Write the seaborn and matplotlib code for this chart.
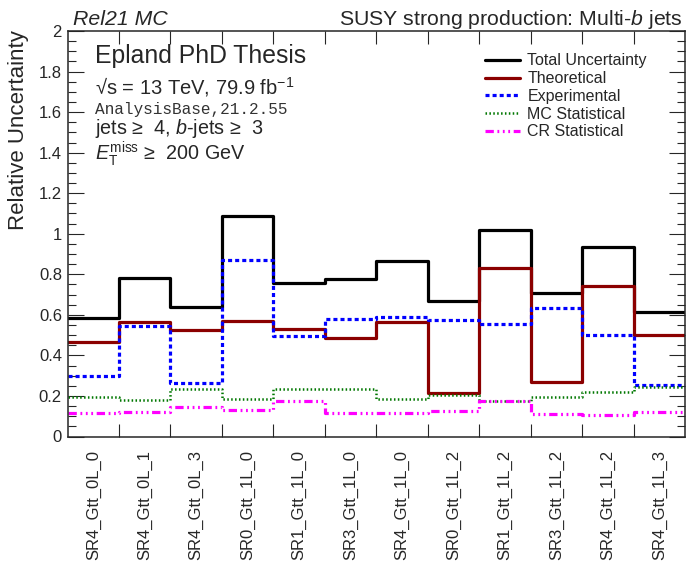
import numpy as np
import pandas as pd
import matplotlib
matplotlib.use("Agg")
import matplotlib.pyplot as plt
from matplotlib.ticker import MultipleLocator, FuncFormatter
import seaborn as sns

# Signal regions (one bin each)
regions = ["SR4_Gtt_0L_0", "SR4_Gtt_0L_1", "SR4_Gtt_0L_3", "SR0_Gtt_1L_0",
           "SR1_Gtt_1L_0", "SR3_Gtt_1L_0", "SR4_Gtt_1L_0", "SR0_Gtt_1L_2",
           "SR1_Gtt_1L_2", "SR3_Gtt_1L_2", "SR4_Gtt_1L_2", "SR4_Gtt_1L_3"]

# Relative uncertainties per region
total = [0.582, 0.780, 0.641, 1.090, 0.755, 0.777, 0.867, 0.669, 1.020, 0.707, 0.934, 0.613]
theoretical = [0.465, 0.564, 0.526, 0.570, 0.531, 0.486, 0.565, 0.213, 0.832, 0.269, 0.743, 0.500]
experimental = [0.299, 0.546, 0.264, 0.870, 0.496, 0.579, 0.589, 0.575, 0.554, 0.633, 0.500, 0.256]
mc_stat = [0.195, 0.180, 0.235, 0.185, 0.236, 0.236, 0.187, 0.205, 0.175, 0.197, 0.221, 0.246]
cr_stat = [0.118, 0.122, 0.146, 0.131, 0.174, 0.115, 0.118, 0.124, 0.177, 0.113, 0.108, 0.122]

series_names = ["Total Uncertainty", "Theoretical", "Experimental", "MC Statistical", "CR Statistical"]
series_values = [total, theoretical, experimental, mc_stat, cr_stat]

sns.set_style("ticks")
plt.rcParams["font.family"] = ["Liberation Sans", "DejaVu Sans"]
plt.rcParams["mathtext.fontset"] = "custom"
plt.rcParams["mathtext.rm"] = "Liberation Sans"
plt.rcParams["mathtext.it"] = "Liberation Sans:italic"
plt.rcParams["mathtext.bf"] = "Liberation Sans:bold"
plt.rcParams["lines.scale_dashes"] = False

W, H = 687, 568
fig = plt.figure(figsize=(W / 100, H / 100), dpi=100)
x0, x1, y0, y1 = 67.5, 685.0, 31.0, 436.5
ax = fig.add_axes([x0 / W, 1 - y1 / H, (x1 - x0) / W, (y1 - y0) / H])

styles = {
    "Total Uncertainty": dict(color="black", linewidth=2.3, linestyle="-"),
    "Theoretical": dict(color="#8b0000", linewidth=2.3, linestyle="-"),
    "Experimental": dict(color="#0000ff", linewidth=2.3, linestyle=(0, (2.9, 2.2))),
    "MC Statistical": dict(color="#007700", linewidth=1.8, linestyle=(0, (1.1, 1.7))),
    "CR Statistical": dict(color="#ff00ff", linewidth=2.3,
                           linestyle=(0, (6.0, 2.6, 1.3, 2.6, 1.3, 2.6, 1.3, 2.6))),
}

edges = np.arange(len(regions) + 1)
for name, vals in zip(series_names, series_values):
    df = pd.DataFrame({"edge": edges, "value": list(vals) + [vals[-1]]})
    sns.lineplot(data=df, x="edge", y="value", ax=ax, drawstyle="steps-post",
                 estimator=None, label=name, **styles[name])

ax.set_xlim(0, len(regions))
ax.set_ylim(0, 2)
ax.set_xlabel("")
ax.set_ylabel("")

# bin edges as tick marks, region names centred in each bin
ax.set_xticks(edges[1:-1])
ax.set_xticklabels([])
ax.set_xticks(edges[:-1] + 0.5, minor=True)
ax.set_xticklabels(regions, minor=True, rotation=90, fontsize=12)
ax.tick_params(axis="x", which="major", direction="in", top=True, bottom=True,
               length=9.5, width=0.8)
ax.tick_params(axis="x", which="minor", length=0, pad=9.5)

ax.yaxis.set_major_locator(MultipleLocator(0.2))
ax.yaxis.set_minor_locator(MultipleLocator(0.05))
ax.yaxis.set_major_formatter(FuncFormatter(lambda v, _: f"{v:g}"))
ax.tick_params(axis="y", which="major", direction="in", left=True, right=True,
               length=11.5, width=0.8, labelsize=12, pad=4)
ax.tick_params(axis="y", which="minor", direction="in", left=True, right=True,
               length=5.8, width=0.8)
for sp in ax.spines.values():
    sp.set_linewidth(1.1)

ax.legend(loc="upper left", bbox_to_anchor=(485 / W, 1 - 53.5 / H),
          bbox_transform=fig.transFigure, frameon=False, fontsize=11.5,
          handlelength=2.2, handletextpad=0.45, labelspacing=0.17,
          borderpad=0, borderaxespad=0)

def px(x, y):
    return x / W, 1 - y / H

fig.text(*px(19, 30), "Relative Uncertainty", rotation=90, ha="center", va="top",
         fontsize=16)
fig.text(*px(73, 25), "Rel21 MC", style="italic", fontsize=15.3, va="baseline")
fig.text(*px(683, 25), "SUSY strong production: Multi-$b$ jets", ha="right",
         fontsize=15.3, va="baseline")

fig.text(*px(95, 63.3), "Epland PhD Thesis", fontsize=17.8, va="baseline")
fig.text(*px(95, 94), "\u221as = 13 TeV, 79.9 fb$^{-1}$", fontsize=14.5, va="baseline")
fig.text(*px(95, 114), "AnalysisBase,21.2.55", family="Liberation Mono",
         fontsize=11.6, color="#333333", va="baseline")
fig.text(*px(95, 134.5), "jets \u2265  4, $b$-jets \u2265  3", fontsize=14.2, va="baseline")
fig.text(*px(95, 160), "$E_{\\mathrm{T}}^{\\mathrm{miss}}$ \u2265  200 GeV", fontsize=14.2,
         va="baseline")

fig.savefig("out.png", dpi=100)
